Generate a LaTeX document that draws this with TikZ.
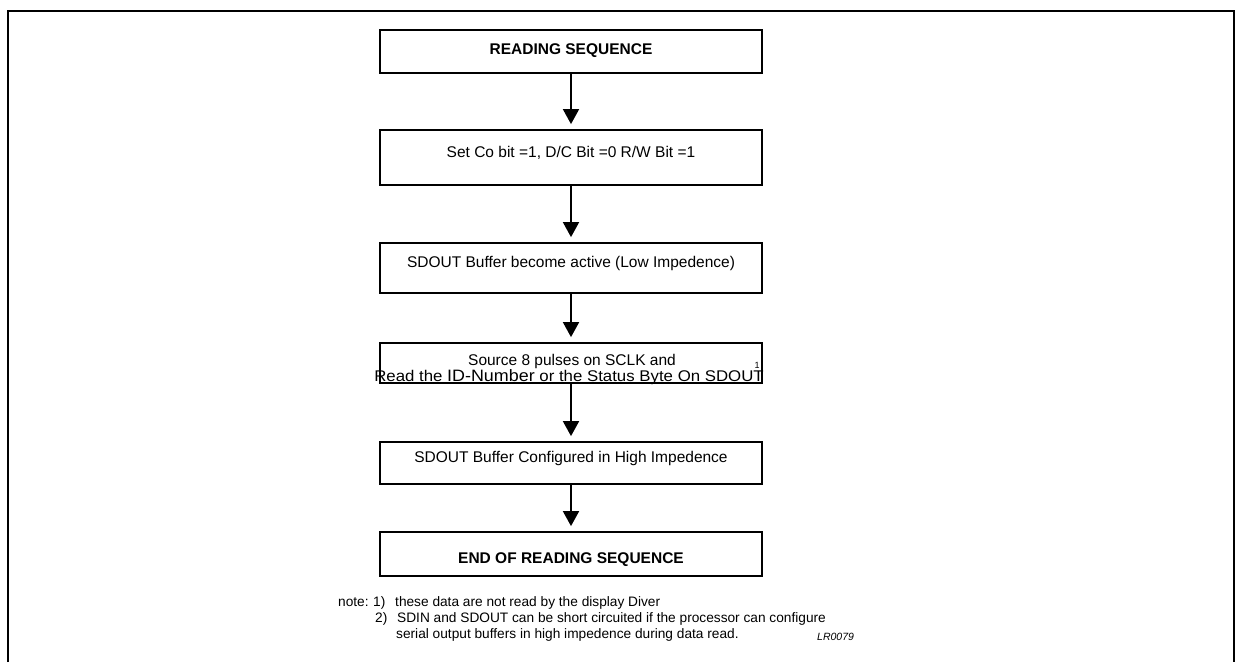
\documentclass[tikz,border=0pt]{standalone}
\usepackage{fontspec}
\setmainfont{Liberation Sans}
\usetikzlibrary{arrows.meta}
\tikzset{
  stepbox/.style={draw, line width=1.8pt, minimum width=382pt, inner sep=0pt},
  lbl/.style={anchor=base, inner sep=0pt, font=\fontsize{15.5}{18}\selectfont},
  blbl/.style={lbl, font=\fontsize{15.5}{18}\selectfont\bfseries},
  note/.style={anchor=base west, inner sep=0pt, font=\fontsize{13.7}{16}\selectfont},
  flow/.style={line width=1.8pt, -{Triangle[width=16pt,length=15pt]}, shorten >=5pt}
}
\begin{document}
\begin{tikzpicture}[x=1pt,y=-1pt]
\useasboundingbox (0,0) rectangle (1235,662);
% frame
\draw[line width=2.6pt, line join=miter] (8,662) -- (8,11) -- (1234,11) -- (1234,662);
% boxes
\node[stepbox, minimum height=43pt] (b1) at (571,51.5) {};
\node[stepbox, minimum height=55pt] (b2) at (571,157.5) {};
\node[stepbox, minimum height=50pt] (b3) at (571,268) {};
\node[stepbox, minimum height=40pt] (b4) at (571,363) {};
\node[stepbox, minimum height=42pt] (b5) at (571,463) {};
\node[stepbox, minimum height=44pt] (b6) at (571,554) {};
% texts
\node[blbl] (t1) at (571,54) {READING SEQUENCE};
\node[lbl] (t2) at (571,157) {Set Co bit =1, D/C Bit =0 R/W Bit =1};
\node[lbl] (t3) at (571,267) {SDOUT Buffer become active (Low Impedence)};
\node[lbl] (t4a) at (572,365) {Source 8 pulses on SCLK and};
\node[lbl] (t4b) at (569,381.5) {\scalebox{1.085}[1]{Read the {\fontsize{16.5}{18}\selectfont ID-Number} or the Status Byte On SDOUT}};
\node[anchor=base, inner sep=0pt, font=\fontsize{9}{10}\selectfont] (sup) at (757,368) {1};
\node[lbl] (t5) at (571,462.5) {SDOUT Buffer Configured in High Impedence};
\node[blbl] (t6) at (571,563) {END OF READING SEQUENCE};
% connectors
\draw[flow] (b1.south) -- (b2.north);
\draw[flow] (b2.south) -- (b3.north);
\draw[flow] (b3.south) -- (b4.north);
\draw[flow] (b4.south) -- (b5.north);
\draw[flow] (b5.south) -- (b6.north);
% notes
\node[note] (n0) at (338,606.5) {note:};
\node[note] (n1) at (373,606.5) {1)};
\node[note] (n1t) at (395,606.5) {these data are not read by the display Diver};
\node[note] (n2) at (375,622.5) {2)};
\node[note] (n2t) at (397,622.5) {SDIN and SDOUT can be short circuited if the processor can configure};
\node[note] (n3t) at (396,638.5) {serial output buffers in high impedence during data read.};
\node[anchor=base west, inner sep=0pt, font=\fontsize{10.5}{12}\selectfont\itshape] (lr) at (817,640) {LR0079};
\end{tikzpicture}
\end{document}
